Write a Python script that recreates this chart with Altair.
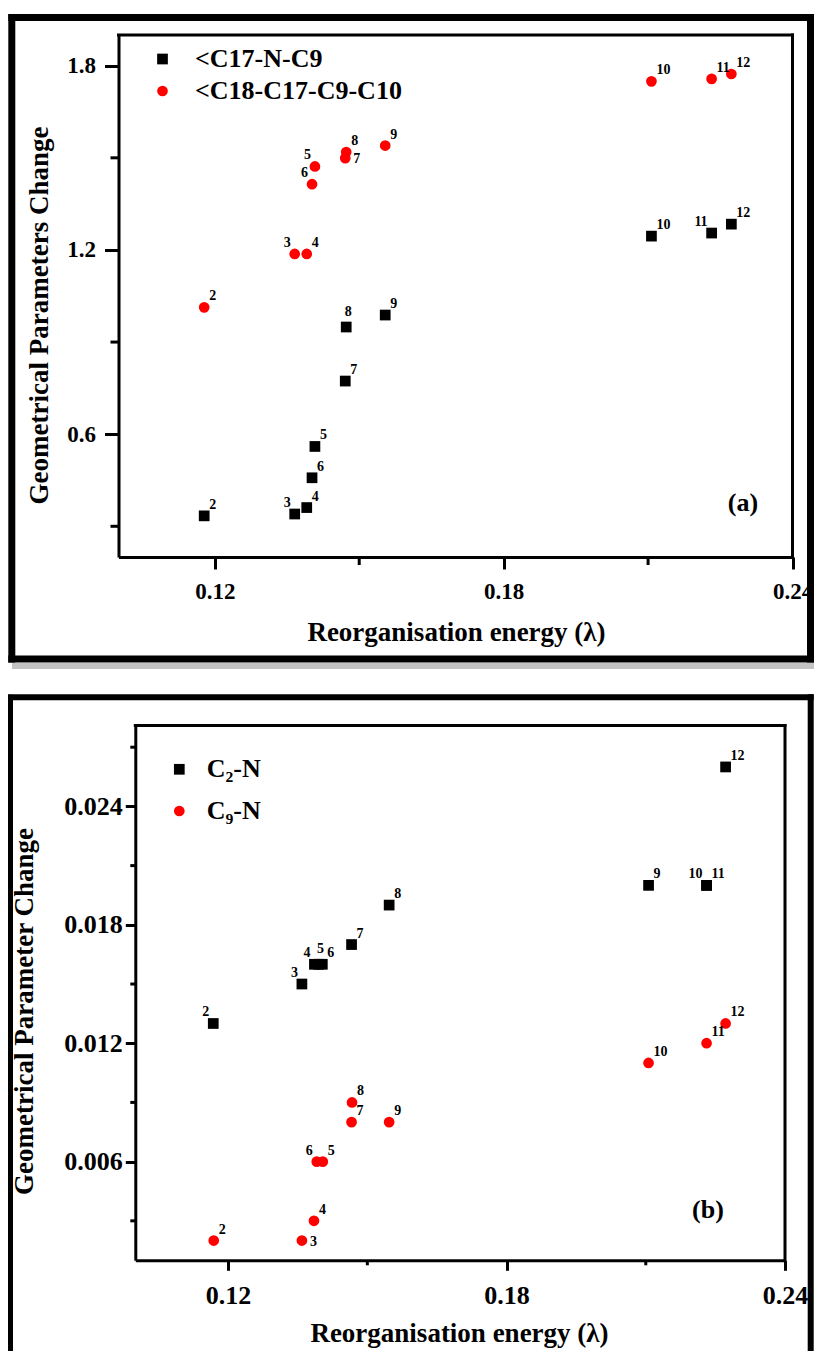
import altair as alt
import pandas as pd

FONT = "Liberation Serif"

# ---------------- panel (a) values ----------------
a_labels = ["2", "3", "4", "5", "6", "7", "8", "9", "10", "11", "12"]
a_x = [0.1178, 0.1366, 0.1391, 0.1408, 0.1402, 0.1471, 0.1473, 0.1554, 0.2107, 0.2232, 0.2273]
a_series = ["<C17-N-C9", "<C18-C17-C9-C10"]
a_val1 = [0.334, 0.340, 0.361, 0.560, 0.458, 0.773, 0.949, 0.988, 1.245, 1.255, 1.284]
a_val2 = [1.013, 1.187, 1.187, 1.472, 1.414, 1.499, 1.519, 1.540, 1.749, 1.757, 1.773]
a_anchor1 = ["ne", "nw", "ne", "ne", "ne", "ne", "n", "ne", "ne", "nw", "ne"]
a_anchor2 = ["ne", "nw", "ne", "nw", "nw", "e", "ne", "ne", "ne", "ne", "ne"]
a_yticks = [0.6, 1.2, 1.8]
a_yminor = [0.3, 0.9, 1.5]

# ---------------- panel (b) values ----------------
b_labels = ["2", "3", "4", "5", "6", "7", "8", "9", "10", "11", "12"]
b_series = ["C\u2082-N", "\u2009C\u2089-N"]
b_x1 = [0.1168, 0.1359, 0.1386, 0.1395, 0.1403, 0.1466, 0.1547, 0.2106, 0.2231, 0.2231, 0.2272]
b_val1 = [0.013, 0.015, 0.016, 0.016, 0.016, 0.017, 0.019, 0.020, 0.020, 0.020, 0.026]
b_x2 = [0.1169, 0.1359, 0.1385, 0.1404, 0.1391, 0.1466, 0.1467, 0.1547, 0.2106, 0.2231, 0.2272]
b_val2 = [0.002, 0.002, 0.003, 0.006, 0.006, 0.008, 0.009, 0.008, 0.011, 0.012, 0.013]
b_anchor1 = ["nw", "nw", "nw", "n", "ne", "ne", "ne", "ne", "nw", "ne", "ne"]
b_anchor2 = ["ne", "e", "ne", "ne", "nw", "ne", "ne", "ne", "ne", "ne", "ne"]
b_yticks = [0.006, 0.012, 0.018, 0.024]
b_yminor = [0.003, 0.009, 0.015, 0.021, 0.027]

x_ticks = [0.12, 0.18, 0.24]
x_minor = [0.15, 0.21]
x_title = "Reorganisation energy (\u03bb)"

CW, CH = 806, 1343  # whole drawing (page minus the 8px margins)

ANCHORS = {
    "ne": dict(align="left", baseline="alphabetic", dx=5, dy=-7),
    "nw": dict(align="right", baseline="alphabetic", dx=-4, dy=-7),
    "n": dict(align="center", baseline="alphabetic", dx=2, dy=-11),
    "e": dict(align="left", baseline="middle", dx=8, dy=1),
}

ONE = pd.DataFrame({"f": [0]})


def long_df(series, xs, vals, anchors, labels):
    rows = []
    for s, xx, vv, aa in zip(series, xs, vals, anchors):
        for lab, x, v, a in zip(labels, xx, vv, aa):
            rows.append({"series": s, "x": x, "y": v, "label": lab, "anchor": a})
    return pd.DataFrame(rows)


def rule(x1, y1, x2, y2, w, color="black", cap="square"):
    return alt.Chart(ONE).mark_rule(color=color, strokeWidth=w, strokeCap=cap).encode(
        x=alt.value(x1), x2=alt.value(x2), y=alt.value(y1), y2=alt.value(y2))


def panel(df, series, xdom, ydom, yticks, yminor, yfmt, ytitle, box, cfg):
    L, T, R, B = box
    xs = alt.Scale(domain=xdom, range=[L, R], nice=False, zero=False)
    ys = alt.Scale(domain=ydom, range=[B, T], nice=False, zero=False)
    common = dict(
        grid=False, labelFont=FONT, labelFontSize=cfg["tick_fs"], labelFontWeight="bold",
        labelColor="black", labelFlush=False, labelOverlap=False,
        tickColor="black", tickWidth=3, domainColor="black", domainWidth=3,
        titleFont=FONT, titleFontSize=27, titleFontWeight="bold", titleColor="black",
    )
    xaxis = alt.Axis(
        values=x_ticks, format=".2f", title=x_title, orient="bottom", offset=B - CH,
        labelPadding=cfg["xlabpad"], tickSize=cfg["xtick"],
        titleX=cfg["xtitleX"], titleY=cfg["xtitleY"], titleBaseline="alphabetic",
        titleAlign="center", **common,
    )
    yaxis = alt.Axis(
        values=yticks, format=yfmt, title=ytitle, orient="left", offset=-L,
        labelPadding=cfg["ylabpad"], tickSize=cfg["ytick"],
        titleAngle=270, titleAlign="center", titleBaseline="middle",
        titleX=cfg["ytitleX"], titleY=cfg["ytitleY"], **common,
    )
    legend = alt.Legend(
        title=None, orient="none", legendX=cfg["legX"], legendY=cfg["legY"],
        labelFont=FONT, labelFontSize=26, labelFontWeight="bold", labelColor="black",
        labelLimit=600, symbolSize=115, symbolStrokeWidth=0, labelOffset=cfg["labOff"],
        rowPadding=cfg["rowPad"], padding=0,
    )
    X = alt.X("x:Q", scale=xs, axis=xaxis)
    Y = alt.Y("y:Q", scale=ys, axis=yaxis)
    base = alt.Chart(df)
    pts = base.mark_point(filled=True, size=115, opacity=1).encode(
        x=X, y=Y,
        color=alt.Color("series:N", scale=alt.Scale(domain=series, range=["#000000", "#ff0000"]), legend=legend),
        shape=alt.Shape("series:N", scale=alt.Scale(domain=series, range=["square", "circle"]), legend=legend),
    )
    texts = [
        base.transform_filter(alt.datum.anchor == k).mark_text(
            font=FONT, fontSize=14, fontWeight="bold", color="black", **v
        ).encode(x=X, y=Y, text="label:N")
        for k, v in ANCHORS.items()
    ]
    xm = alt.Chart(pd.DataFrame({"x": x_minor})).mark_rule(color="black", strokeWidth=3).encode(
        x=X, y=alt.value(B), y2=alt.value(B + cfg["minor"]))
    ym = alt.Chart(pd.DataFrame({"y": yminor})).mark_rule(color="black", strokeWidth=3).encode(
        y=Y, x=alt.value(L), x2=alt.value(L - cfg["minor"]))
    return alt.layer(pts, *texts, xm, ym)


df_a = long_df(a_series, [a_x, a_x], [a_val1, a_val2], [a_anchor1, a_anchor2], a_labels)
df_b = long_df(b_series, [b_x1, b_x2], [b_val1, b_val2], [b_anchor1, b_anchor2], b_labels)

box_a = (110.5, 27, 784.5, 549)
cfg_a = dict(
    tick_fs=23, xlabpad=11, ylabpad=9, xtick=12, ytick=14, minor=8,
    xtitleX=448, xtitleY=83, ytitleX=-79, ytitleY=307,
    legX=141.5, legY=38, labOff=19.5, rowPad=6,
)
box_b = (127.3, 717.5, 777, 1252.3)
cfg_b = dict(
    tick_fs=26, xlabpad=12, ylabpad=3, xtick=10, ytick=10, minor=5,
    xtitleX=451, xtitleY=81, ytitleX=-110.5, ytitleY=1003,
    legX=158.3, legY=748.3, labOff=14.4, rowPad=15.7,
)

pa = panel(df_a, a_series, [0.1, 0.24], [0.2, 1.9], a_yticks, a_yminor, ".1f",
           "Geometrical Parameters Change", box_a, cfg_a)
pb = panel(df_b, b_series, [0.1, 0.24], [0.001, 0.0281], b_yticks, b_yminor, ".3f",
           "Geometrical Parameter Change", box_b, cfg_b)


def tag(text, x, y):
    return alt.Chart(ONE).mark_text(
        text=text, font=FONT, fontSize=26, fontWeight="bold", color="black",
        align="center", baseline="middle").encode(x=alt.value(x), y=alt.value(y))


deco = alt.layer(
    # soft shadow under frame (a)
    rule(4, 658, CW, 658, 6, color="#c4c4c4", cap="butt"),
    # outer frame (a)
    rule(3.8, 9.5, 3.8, 651, 7), rule(3.8, 9.5, 802.5, 9.5, 7),
    rule(802.5, 9.5, 802.5, 651, 7), rule(3.8, 651, 802.5, 651, 7),
    # outer frame (b) (bottom edge runs off the page)
    rule(2.5, 689.3, 2.5, CH + 10, 5), rule(2.5, 689.3, 802.7, 689.3, 6),
    rule(802.7, 689.3, 802.7, CH + 10, 6),
    # plot boxes: top and right edges
    rule(box_a[0], box_a[1], box_a[2], box_a[1], 3), rule(box_a[2], box_a[1], box_a[2], box_a[3], 3),
    rule(box_b[0], box_b[1], box_b[2], box_b[1], 3), rule(box_b[2], box_b[1], box_b[2], box_b[3], 3),
    tag("(a)", 735, 495),
    tag("(b)", 700, 1202),
)

chart = (
    alt.layer(pa, pb, deco)
    .resolve_scale(x="independent", y="independent", color="independent", shape="independent")
    .properties(width=CW, height=CH, autosize=alt.AutoSizeParams(type="none"), padding=0)
    .configure(font=FONT)
    .configure_view(stroke=None)
)

chart.save("out.html", embed_options={"renderer": "svg", "actions": False})
